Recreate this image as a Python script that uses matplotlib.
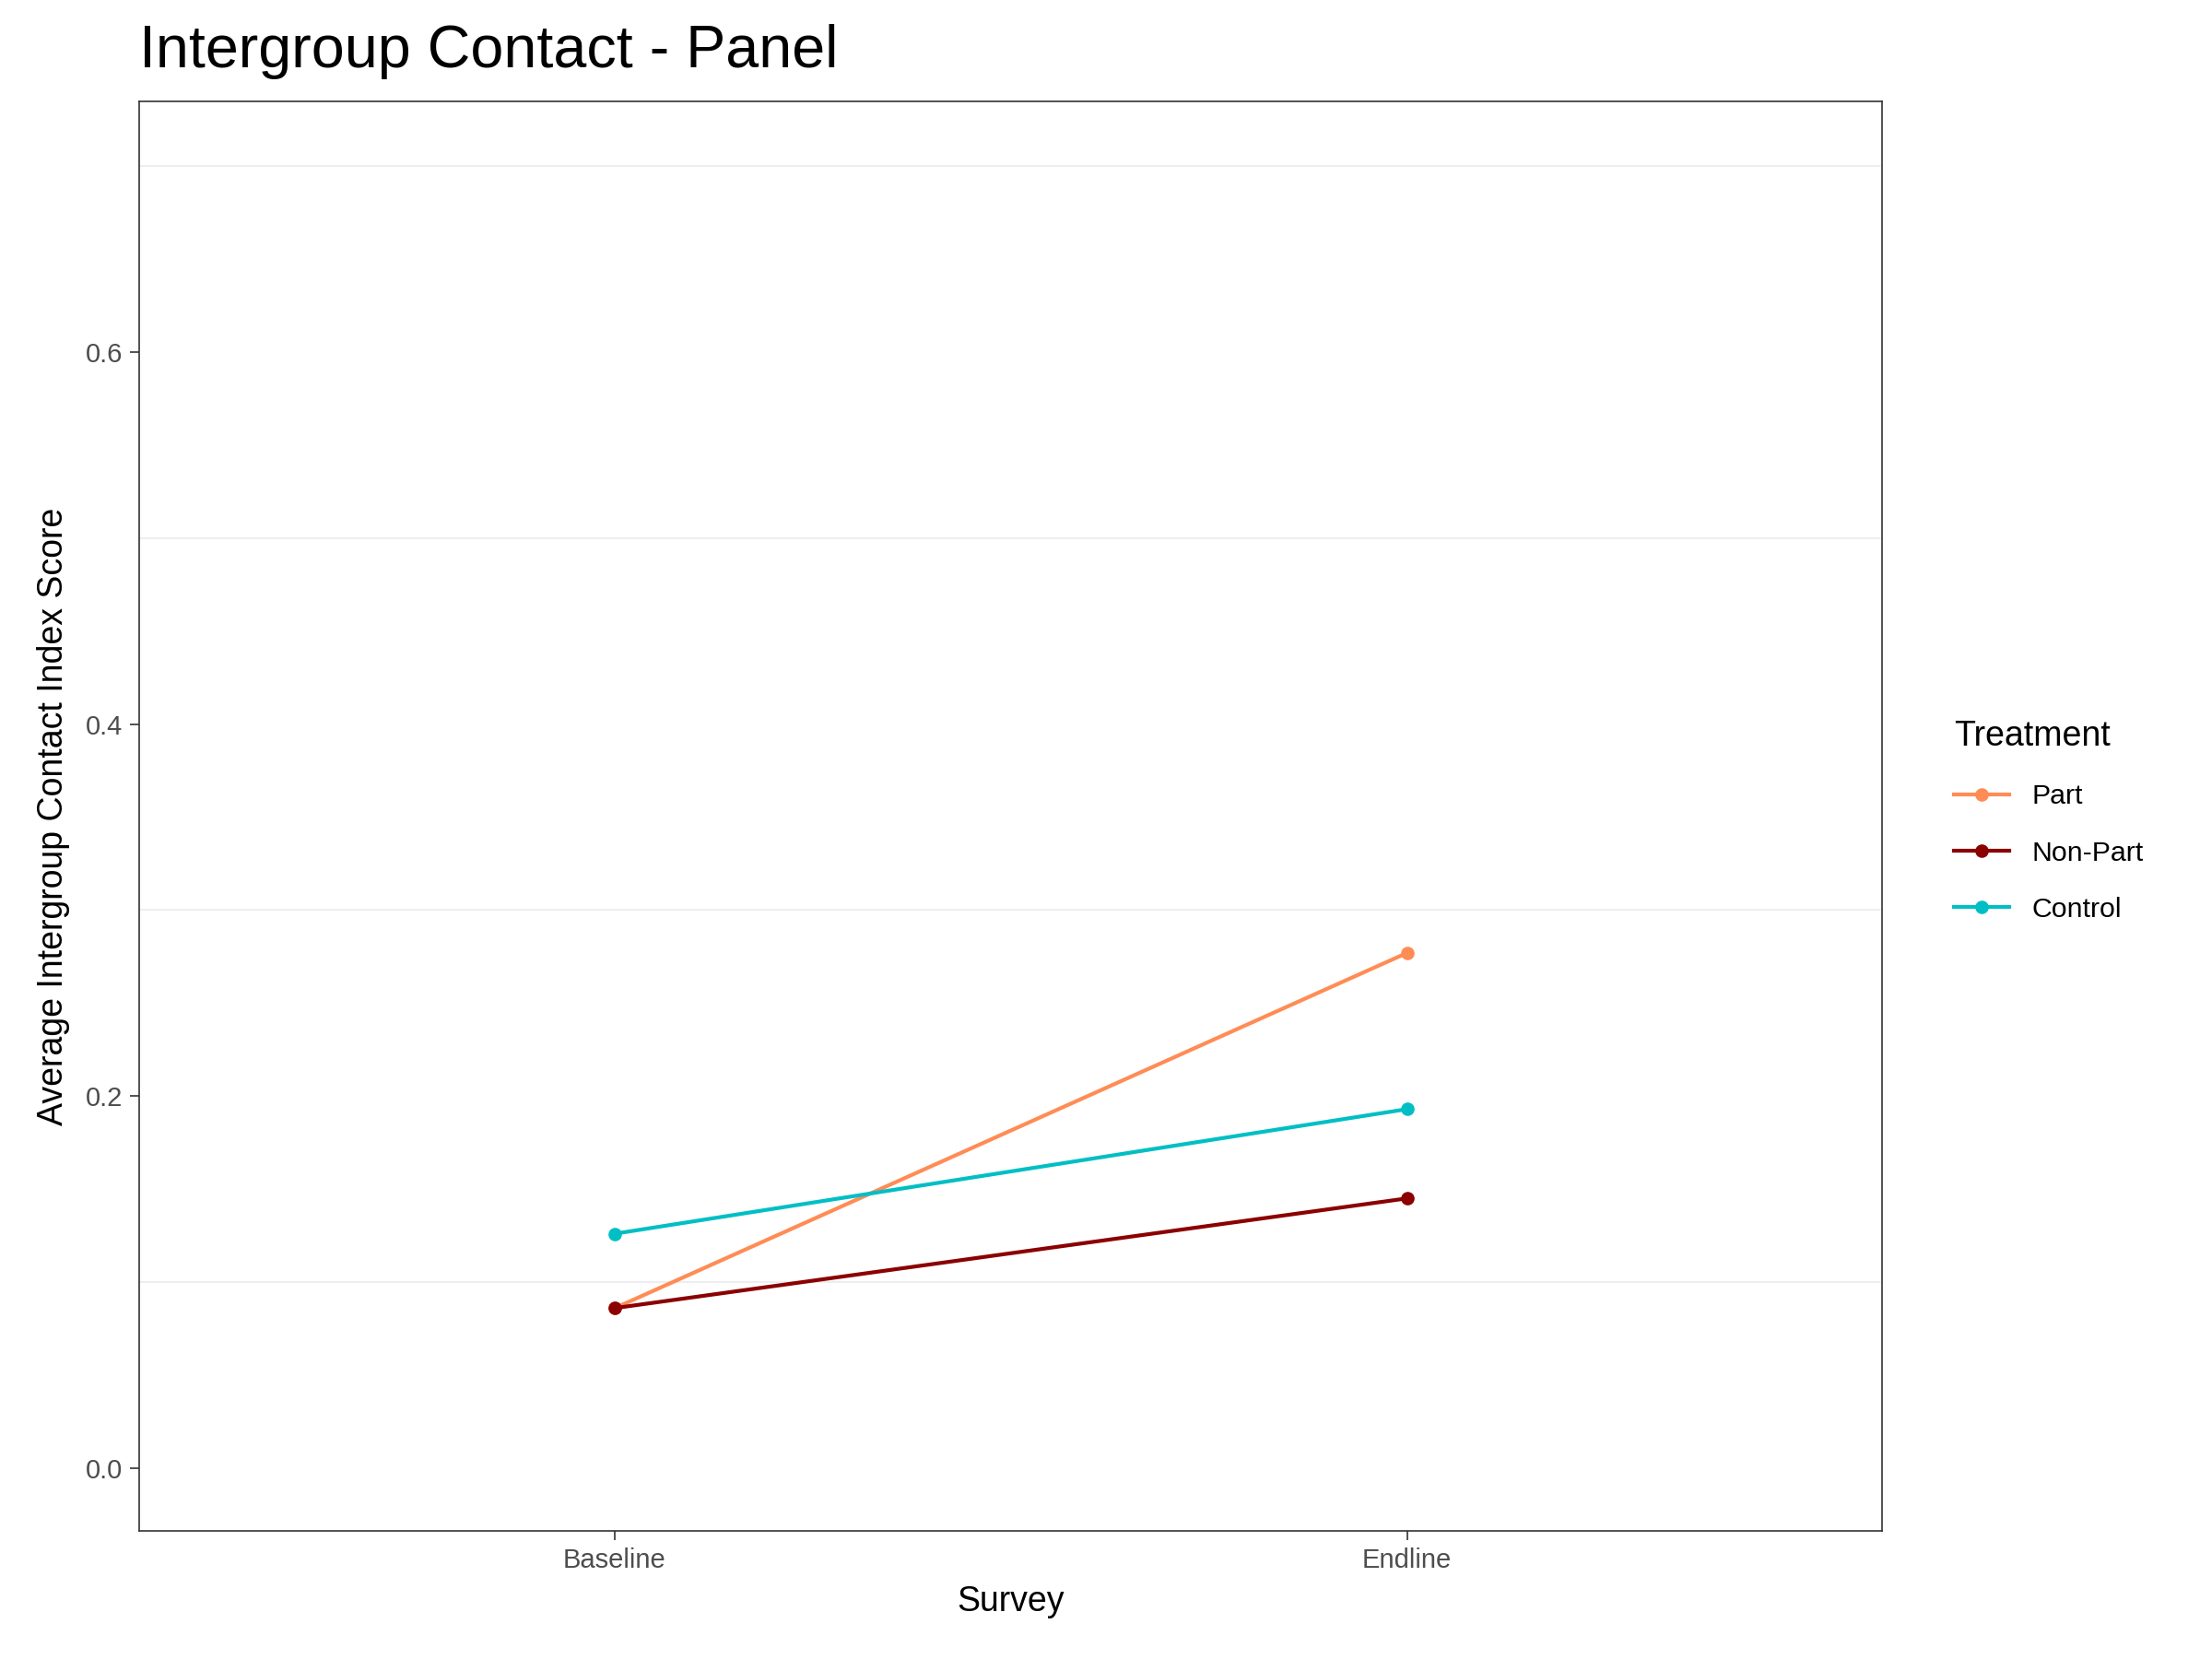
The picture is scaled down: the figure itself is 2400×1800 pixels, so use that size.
import matplotlib
matplotlib.use("Agg")
import matplotlib.pyplot as plt
from matplotlib.ticker import MultipleLocator

surveys = ["Baseline", "Endline"]
groups = ["Part", "Non-Part", "Control"]
values = {
    "Part": [0.086, 0.277],
    "Non-Part": [0.086, 0.145],
    "Control": [0.126, 0.193],
}
colors = {"Part": "#FF8C55", "Non-Part": "#8B0000", "Control": "#00BFC4"}

plt.rcParams['font.family'] = ['Liberation Sans', 'DejaVu Sans']
fig = plt.figure(figsize=(16, 12), dpi=150)
ax = fig.add_axes([0.063, 0.077, 0.788, 0.862])
x = [1, 2]
for g in groups:
    ax.plot(x, values[g], color=colors[g], lw=2, marker='o', ms=6, label=g, zorder=3)

ax.set_xlim(0.4, 2.6)
ax.set_ylim(-0.034, 0.735)
ax.set_xticks(x)
ax.set_xticklabels(surveys)
ax.yaxis.set_major_locator(MultipleLocator(0.2))
ax.set_yticklabels([f"{v:.1f}" for v in ax.get_yticks()])
for yv in [0.1, 0.3, 0.5, 0.7]:
    ax.axhline(yv, color="#EBEBEB", lw=0.8, zorder=0)
ax.tick_params(labelsize=14, colors="#333333", length=5)
ax.tick_params(labelcolor="#4D4D4D")
for s in ax.spines.values():
    s.set_color("#333333")
ax.set_xlabel("Survey", fontsize=18, labelpad=6)
ax.set_ylabel("Average Intergroup Contact Index Score", fontsize=18, labelpad=8)
fig.text(0.063, 0.952, "Intergroup Contact - Panel", fontsize=31, ha='left', va='bottom')
leg = fig.legend(loc='center left', bbox_to_anchor=(0.872, 0.505), frameon=False,
                 title="Treatment", fontsize=14.5, title_fontsize=18, handlelength=2,
                 labelspacing=1.1)
leg._legend_box.align = "left"
fig.savefig("out.png", dpi=150)
